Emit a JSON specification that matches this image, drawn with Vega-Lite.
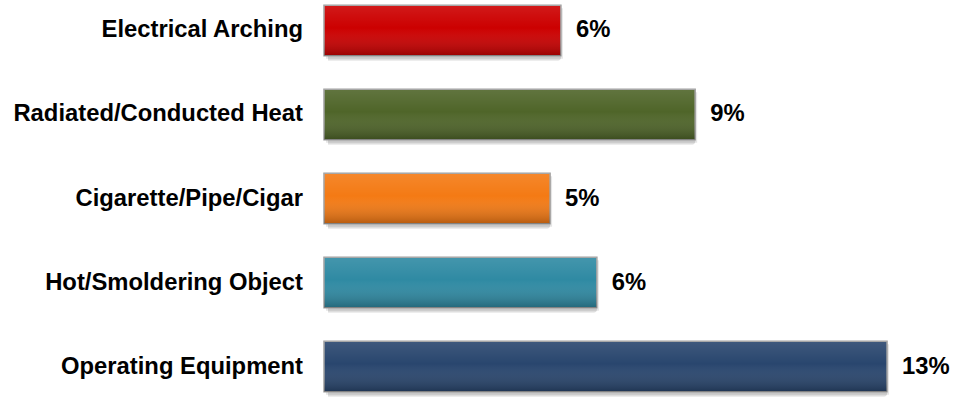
{
  "$schema": "https://vega.github.io/schema/vega-lite/v6.json",
  "width": 641,
  "height": 397,
  "padding": {"left": 324, "right": 0, "top": 0, "bottom": 0},
  "autosize": "none",
  "background": "white",
  "config": {"view": {"stroke": null}},
  "data": {
    "values": [
      {"cause": "Electrical Arching", "value": 5.47, "label": "6%"},
      {"cause": "Radiated/Conducted Heat", "value": 8.57, "label": "9%"},
      {"cause": "Cigarette/Pipe/Cigar", "value": 5.22, "label": "5%"},
      {"cause": "Hot/Smoldering Object", "value": 6.3, "label": "6%"},
      {"cause": "Operating Equipment", "value": 13.0, "label": "13%"}
    ]
  },
  "encoding": {
    "y": {"field": "cause", "type": "nominal", "sort": null, "axis": null, "scale": {"paddingInner": 0.4, "paddingOuter": 0.063}},
    "x": {"field": "value", "type": "quantitative", "axis": null, "scale": {"domain": [0, 14.8]}}
  },
  "layer": [
    {"mark": {"type": "bar", "xOffset": 4, "yOffset": 5, "fill": "#000000", "opacity": 0.13, "cornerRadius": 3}},
    {"mark": {"type": "bar", "xOffset": 2, "yOffset": 3, "fill": "#000000", "opacity": 0.1}},
    {
      "mark": {"type": "bar", "stroke": "#A0A0A0", "strokeWidth": 1.5},
      "encoding": {
        "color": {
          "field": "cause", "type": "nominal", "legend": null,
          "scale": {
            "domain": ["Electrical Arching", "Radiated/Conducted Heat", "Cigarette/Pipe/Cigar", "Hot/Smoldering Object", "Operating Equipment"],
            "range": ["#CC0000", "#4F6529", "#F47A14", "#2F8AA3", "#29466E"]
          }
        }
      }
    },
    {
      "mark": {
        "type": "bar",
        "fill": {"gradient": "linear", "x1": 0, "y1": 0, "x2": 0, "y2": 1,
          "stops": [
            {"offset": 0, "color": "rgba(255,255,255,0.10)"},
            {"offset": 0.45, "color": "rgba(255,255,255,0)"},
            {"offset": 1, "color": "rgba(0,0,0,0.25)"}
          ]}
      }
    },
    {
      "mark": {"type": "text", "align": "right", "baseline": "middle", "dx": -21, "fontSize": 23.8, "fontWeight": "bold", "font": "Liberation Sans", "color": "#000000"},
      "encoding": {"x": {"datum": 0, "type": "quantitative"}, "text": {"field": "cause"}}
    },
    {
      "mark": {"type": "text", "align": "left", "baseline": "middle", "dx": 15, "fontSize": 23.8, "fontWeight": "bold", "font": "Liberation Sans", "color": "#000000"},
      "encoding": {"text": {"field": "label"}}
    }
  ]
}
